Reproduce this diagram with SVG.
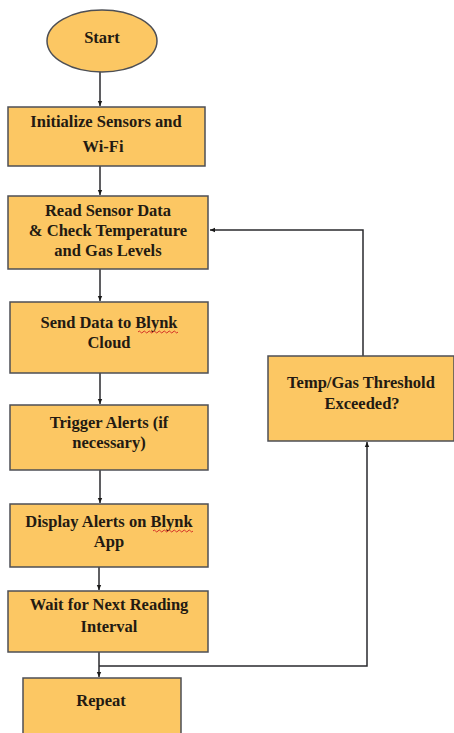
<svg xmlns="http://www.w3.org/2000/svg" width="454" height="733" viewBox="0 0 454 733">
<style>
.box{fill:#FCC763;stroke:#4d4f55;stroke-width:1.5}
.t{font-family:"Liberation Serif","Times New Roman",serif;font-weight:bold;font-size:16.5px;fill:#231a12;text-anchor:middle}
.c{fill:none;stroke:#2a2a2e;stroke-width:1.5}
.sq{fill:none;stroke:#d02020;stroke-width:0.9}
</style>
<defs>
<marker id="ah" markerWidth="6" markerHeight="6" refX="5" refY="3" orient="auto" markerUnits="userSpaceOnUse">
<path d="M0,0.8 L5,3 L0,5.2 Z" fill="#1a1a1a"/>
</marker>
</defs>
<rect width="454" height="733" fill="#ffffff"/>
<g id="connectors">
<line class="c" x1="100" y1="72" x2="100" y2="106" marker-end="url(#ah)"/>
<line class="c" x1="100" y1="166" x2="100" y2="195" marker-end="url(#ah)"/>
<line class="c" x1="100" y1="269" x2="100" y2="301" marker-end="url(#ah)"/>
<line class="c" x1="100" y1="373" x2="100" y2="404" marker-end="url(#ah)"/>
<line class="c" x1="100" y1="470" x2="100" y2="503" marker-end="url(#ah)"/>
<line class="c" x1="99" y1="567" x2="99" y2="590" marker-end="url(#ah)"/>
<line class="c" x1="99" y1="652" x2="99" y2="677" marker-end="url(#ah)"/>
<polyline class="c" points="99,666 367,666 367,442" marker-end="url(#ah)"/>
<polyline class="c" points="363,356 363,230 210,230" marker-end="url(#ah)"/>
</g>
<g id="start">
<ellipse class="box" cx="102" cy="41" rx="55" ry="31"/>
<text class="t" x="102" y="43">Start</text>
</g>
<g id="init">
<rect class="box" x="8" y="107" width="197" height="59"/>
<text class="t" x="106" y="127">Initialize Sensors and</text>
<text class="t" x="103" y="152">Wi-Fi</text>
</g>
<g id="read">
<rect class="box" x="8" y="196" width="200" height="73"/>
<text class="t" x="108" y="216">Read Sensor Data</text>
<text class="t" x="108" y="236">&amp; Check Temperature</text>
<text class="t" x="108" y="256">and Gas Levels</text>
</g>
<g id="send">
<rect class="box" x="10" y="302" width="198" height="71"/>
<text class="t" x="109" y="328">Send Data to Blynk</text>
<text class="t" x="109" y="348">Cloud</text>
<path class="sq" d="M138,332 q1.25,-2 2.5,0 t2.5,0 t2.5,0 t2.5,0 t2.5,0 t2.5,0 t2.5,0 t2.5,0 t2.5,0 t2.5,0 t2.5,0 t2.5,0 t2.5,0 t2.5,0 t2.5,0 t2.5,0"/>
</g>
<g id="threshold">
<rect class="box" x="268" y="356" width="186" height="85"/>
<text class="t" x="361" y="388">Temp/Gas Threshold</text>
<text class="t" x="362" y="409">Exceeded?</text>
</g>
<g id="trigger">
<rect class="box" x="10" y="405" width="198" height="65"/>
<text class="t" x="109" y="428">Trigger Alerts (if</text>
<text class="t" x="109" y="448">necessary)</text>
</g>
<g id="display">
<rect class="box" x="10" y="504" width="198" height="63"/>
<text class="t" x="109" y="527">Display Alerts on Blynk</text>
<text class="t" x="109" y="547">App</text>
<path class="sq" d="M153,531 q1.25,-2 2.5,0 t2.5,0 t2.5,0 t2.5,0 t2.5,0 t2.5,0 t2.5,0 t2.5,0 t2.5,0 t2.5,0 t2.5,0 t2.5,0 t2.5,0 t2.5,0 t2.5,0 t2.5,0"/>
</g>
<g id="wait">
<rect class="box" x="8" y="591" width="200" height="61"/>
<text class="t" x="109" y="610">Wait for Next Reading</text>
<text class="t" x="109" y="632">Interval</text>
</g>
<g id="repeat">
<rect class="box" x="23" y="678" width="158" height="62"/>
<text class="t" x="101" y="706">Repeat</text>
</g>
</svg>
